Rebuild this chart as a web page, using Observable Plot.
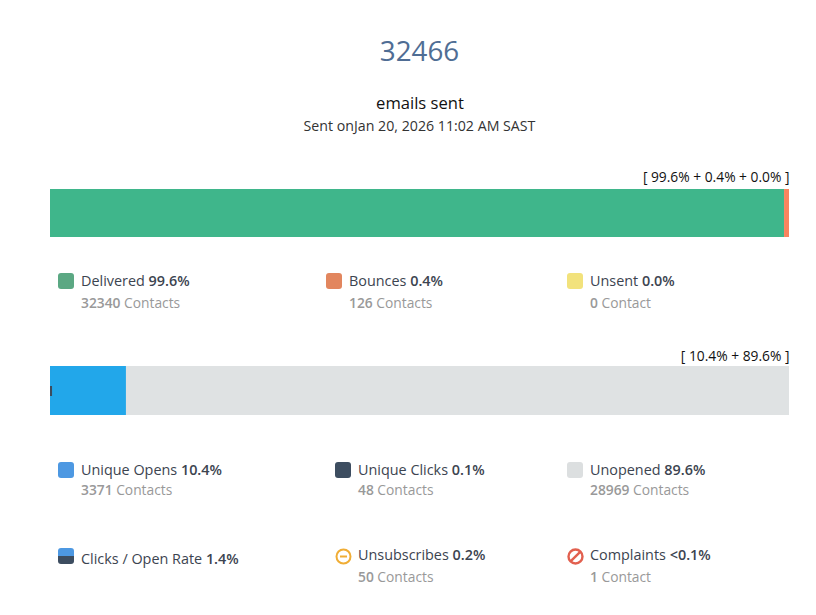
<!DOCTYPE html>
<html><head><meta charset="utf-8">
<script src="https://cdn.jsdelivr.net/npm/d3@7"></script>
<script src="https://cdn.jsdelivr.net/npm/@observablehq/plot@0.6"></script>
<style>
html,body{margin:0;padding:0;background:#fff;overflow:hidden}
body{font-family:"Open Sans",sans-serif;width:816px;height:615px;position:relative}
.abs{position:absolute;white-space:nowrap}
.plot{position:absolute;left:0}
.plot svg{display:block;background:transparent}
.lab{font-size:14.4px;color:#3c4450;line-height:20px}
.lab b{font-weight:600}
.sub{font-size:13.8px;color:#999;line-height:18px}
.sub b{font-weight:600}
.sw{position:absolute;width:16px;height:16px;border-radius:3px}
</style></head><body>
<div id="root"></div>
<script>
const headline = "32466";
const headlineSub = "emails sent";
const sentLine = "Sent onJan 20, 2026 11:02 AM SAST";

const deliveryCategories = ["Delivered", "Bounces", "Unsent"];
const deliveryValues = [99.6, 0.4, 0.0];
const deliveryColors = ["#3fb68b", "#f9845f", "#f2e27c"];
const deliveryLabel = "[ 99.6% + 0.4% + 0.0% ]";

const openCategories = ["Unique Opens", "Unopened"];
const openValues = [10.4, 89.6];
const openColors = ["#22a7ea", "#dfe2e3"];
const clickValue = 0.1;
const openLabel = "[ 10.4% + 89.6% ]";

const legendNames = ["Delivered","Bounces","Unsent","Unique Opens","Unique Clicks","Unopened","Clicks / Open Rate","Unsubscribes","Complaints"];
const legendPcts = ["99.6%","0.4%","0.0%","10.4%","0.1%","89.6%","1.4%","0.2%","<0.1%"];
const legendCounts = ["32340","126","0","3371","48","28969",null,"50","1"];
const legendUnits = ["Contacts","Contacts","Contact","Contacts","Contacts","Contacts",null,"Contacts","Contact"];
const legendSwatches = ["#5ba883","#e2865e","#f2e27c","#4d98e2","#3d4d60","#dcdfe0","split","minus","ban"];

const root = document.getElementById("root");
function put(cls, x, y, html, extra){
  const d = document.createElement("div");
  d.className = "abs " + cls; d.style.left = x + "px"; d.style.top = y + "px";
  d.innerHTML = html; if (extra) d.style.cssText += extra;
  root.appendChild(d); return d;
}
// header
put("", 0, 32, headline, "width:839px;text-align:center;font-size:27.8px;line-height:36px;color:#4f6d94");
put("", 0, 93, headlineSub, "width:840px;text-align:center;font-size:16.6px;line-height:20px;color:#111");
put("", 0, 116, sentLine, "width:839px;text-align:center;font-size:14.2px;line-height:20px;color:#333");

function stackBar(cats, vals, cols, label, top, h, extraMarks){
  const rows = cats.map((c,i)=>({c, v:vals[i], i}));
  const marks = [
    ...rows.map((r,i)=>Plot.barX([r],{
      x1:d=>d3.sum(vals.slice(0,d.i)), x2:d=>d3.sum(vals.slice(0,d.i+1)),
      fill:cols[i],
      ...(extraMarks.insets[i]||{})
    })),
    ...(extraMarks.marks||[]),
    Plot.text([label],{text:d=>d, frameAnchor:"top-right", textAnchor:"end", dy:extraMarks.labelDy, fontSize:13.8, fill:"#111"})
  ];
  const p = Plot.plot({
    width:816, height:h+24, marginLeft:50, marginRight:27, marginTop:24, marginBottom:0,
    x:{domain:[0,100], axis:null}, style:{fontFamily:"Open Sans",overflow:"visible"},
    marks
  });
  const w = document.createElement("div"); w.className="plot"; w.style.top = top+"px"; w.appendChild(p);
  root.appendChild(w);
}
stackBar(deliveryCategories, deliveryValues, deliveryColors, deliveryLabel, 165, 48,
  {labelDy:-17, insets:[{insetRight:2},{insetLeft:-2},{}]});
stackBar(openCategories, openValues, openColors, openLabel, 342, 49,
  {labelDy:-15, insets:[{insetRight:0.9},{insetLeft:-0.9}],
   marks:[Plot.barX([clickValue],{x1:0,x2:d=>d,fill:"#3d4c5e",insetTop:20,insetBottom:19,insetRight:-1.3})]});

// legend placement
const colX = [[58,326,567],[58,335,567],[58,335,567]];
const rowY = [273,462,546];
const subY = [294,481,568];
legendNames.forEach((n,i)=>{
  const r = Math.floor(i/3), c = i%3, x = colX[r][c], y = rowY[r];
  const sw = legendSwatches[i];
  if (sw === "split") {
    put("sw", x, y, "", "background:linear-gradient(#4d98e2 50%,#3d4d60 50%);top:"+(y+2)+"px");
  } else if (sw === "minus") {
    put("", x-0.5, y+1.5, '<svg width="17" height="17" style="display:block"><circle cx="8.5" cy="8.5" r="7" fill="none" stroke="#f0ad35" stroke-width="2"/><path d="M5 8.5H12" stroke="#f0ad35" stroke-width="2"/></svg>');
  } else if (sw === "ban") {
    put("", x-0.5, y+1.5, '<svg width="17" height="17" style="display:block"><circle cx="8.5" cy="8.5" r="7" fill="none" stroke="#e2604f" stroke-width="2.4"/><path d="M3.8 13.2L13.2 3.8" stroke="#e2604f" stroke-width="2.4"/></svg>');
  } else {
    put("sw", x, y, "", "background:"+sw);
  }
  const tx = x + 23;
  const ly = [271,460,r===2&&c===0?549:545][r];
  put("lab", tx, ly, n+" <b>"+legendPcts[i]+"</b>");
  if (legendCounts[i]!==null) put("sub", tx, subY[r], "<b>"+legendCounts[i]+"</b> "+legendUnits[i]);
});
</script>
</body></html>
